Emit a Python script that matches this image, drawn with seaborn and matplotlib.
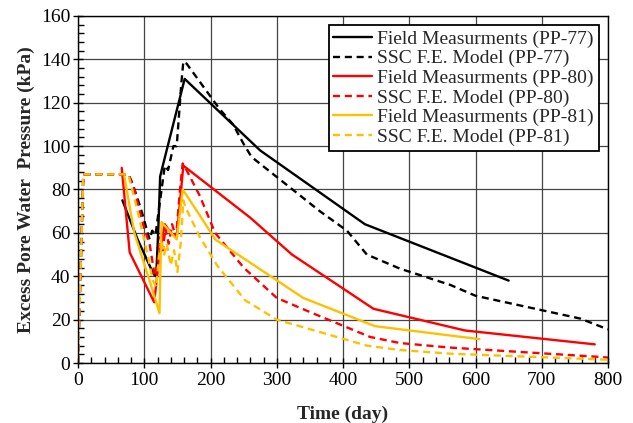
import matplotlib
matplotlib.use("Agg")
import matplotlib.pyplot as plt
from matplotlib.ticker import MultipleLocator
import seaborn as sns
import pandas as pd

# Excess pore water pressure records (time in days, pressure in kPa)
pp77_field_t = [67, 90, 114, 118, 121, 124, 128, 161, 275, 433, 650]
pp77_field_p = [75, 57, 41, 40, 60, 86, 91, 131, 98, 64, 38]

pp77_model_t = [0, 8, 76, 82, 95, 108, 112, 117, 120, 131, 136, 144, 149, 156, 159, 164,
                214, 234, 250, 262, 365, 406, 436, 486, 562, 600, 758, 800]
pp77_model_p = [0, 87, 87, 83, 71, 57, 61, 59, 66, 91, 89, 100, 100, 129, 139, 138,
                117, 110, 101, 95, 70, 61, 50, 43.5, 36, 31, 20.5, 15.5]

pp80_field_t = [66, 78, 115, 123, 131, 140, 149, 159, 260, 323, 446, 584, 780]
pp80_field_p = [90, 51, 28, 50, 64, 60, 58, 91, 67, 50, 25, 15, 8.6]

pp80_model_t = [0, 8, 76, 85, 100, 108, 116, 120, 124, 128, 132, 137, 142, 148, 154, 158, 162,
                184, 207, 250, 300, 350, 441, 486, 562, 788, 800]
pp80_model_p = [0, 87, 87, 80, 62, 55, 40, 45, 58, 52, 62, 55, 64, 58, 80, 92, 90,
                77, 60, 44, 30, 23.5, 12, 9.2, 7.1, 2.8, 2.5]

pp81_field_t = [70, 85, 109, 123, 126, 149, 158, 184, 207, 340, 448, 606]
pp81_field_p = [86, 60, 37, 23, 65, 57, 80, 68, 57, 30, 17, 11]

pp81_model_t = [0, 8, 76, 90, 105, 113, 118, 122, 126, 130, 134, 140, 145, 150, 155, 159, 162,
                184, 210, 252, 300, 436, 486, 562, 800]
pp81_model_p = [0, 87, 87, 70, 50, 38, 35, 48, 57, 50, 55, 45, 52, 42, 55, 75, 72,
                58, 45, 29, 20, 8, 6, 4.3, 1.5]

series = [
    ("Field Measurments (PP-77)", pp77_field_t, pp77_field_p, "black", "-"),
    ("SSC F.E. Model (PP-77)", pp77_model_t, pp77_model_p, "black", "--"),
    ("Field Measurments (PP-80)", pp80_field_t, pp80_field_p, "#FF0000", "-"),
    ("SSC F.E. Model (PP-80)", pp80_model_t, pp80_model_p, "#FF0000", "--"),
    ("Field Measurments (PP-81)", pp81_field_t, pp81_field_p, "#FFC000", "-"),
    ("SSC F.E. Model (PP-81)", pp81_model_t, pp81_model_p, "#FFC000", "--"),
]

sns.set_theme(style="white")
plt.rcParams["font.family"] = ["Liberation Serif", "DejaVu Serif"]

fig = plt.figure(figsize=(6.33, 4.23), dpi=100)
ax = fig.add_axes([78 / 633, 1 - 363 / 423, 530 / 633, 347 / 423])

for name, t, p, color, ls in series:
    df = pd.DataFrame({"t": t, "p": p})
    sns.lineplot(data=df, x="t", y="p", ax=ax, color=color, linestyle=ls,
                 linewidth=1.7, sort=False, estimator=None, label=name)
for line in ax.lines:
    if line.get_linestyle() == "--":
        line.set_dashes((3.0, 2.0))

ax.set_xlim(0, 800)
ax.set_ylim(0, 160)
ax.xaxis.set_major_locator(MultipleLocator(100))
ax.xaxis.set_minor_locator(MultipleLocator(20))
ax.yaxis.set_major_locator(MultipleLocator(20))
ax.yaxis.set_minor_locator(MultipleLocator(4))
ax.grid(True, which="major", color="#444444", linewidth=0.9)
ax.set_axisbelow(True)

for s in ax.spines.values():
    s.set_color("black")
    s.set_linewidth(1.0)

ax.tick_params(axis="both", which="major", direction="inout", length=7, width=1,
               colors="black", labelsize=14, bottom=True, left=True)
ax.tick_params(axis="both", which="minor", direction="in", length=4, width=1,
               colors="black", bottom=True, left=True)
ax.tick_params(axis="x", which="major", pad=3)
ax.tick_params(axis="y", which="major", pad=2)

ax.set_xlabel("Time (day)", fontsize=14, fontweight="bold", labelpad=12)
ax.set_ylabel("Excess Pore Water  Pressure (kPa)", fontsize=14, fontweight="bold", labelpad=4)

leg = ax.legend(loc="upper right", fontsize=14, frameon=True, fancybox=False,
                edgecolor="black", framealpha=1, handlelength=2.0, handletextpad=0.25,
                borderpad=0.25, labelspacing=0.1, borderaxespad=0.48)
leg.get_frame().set_linewidth(1.3)

fig.savefig("out.png", dpi=100)
